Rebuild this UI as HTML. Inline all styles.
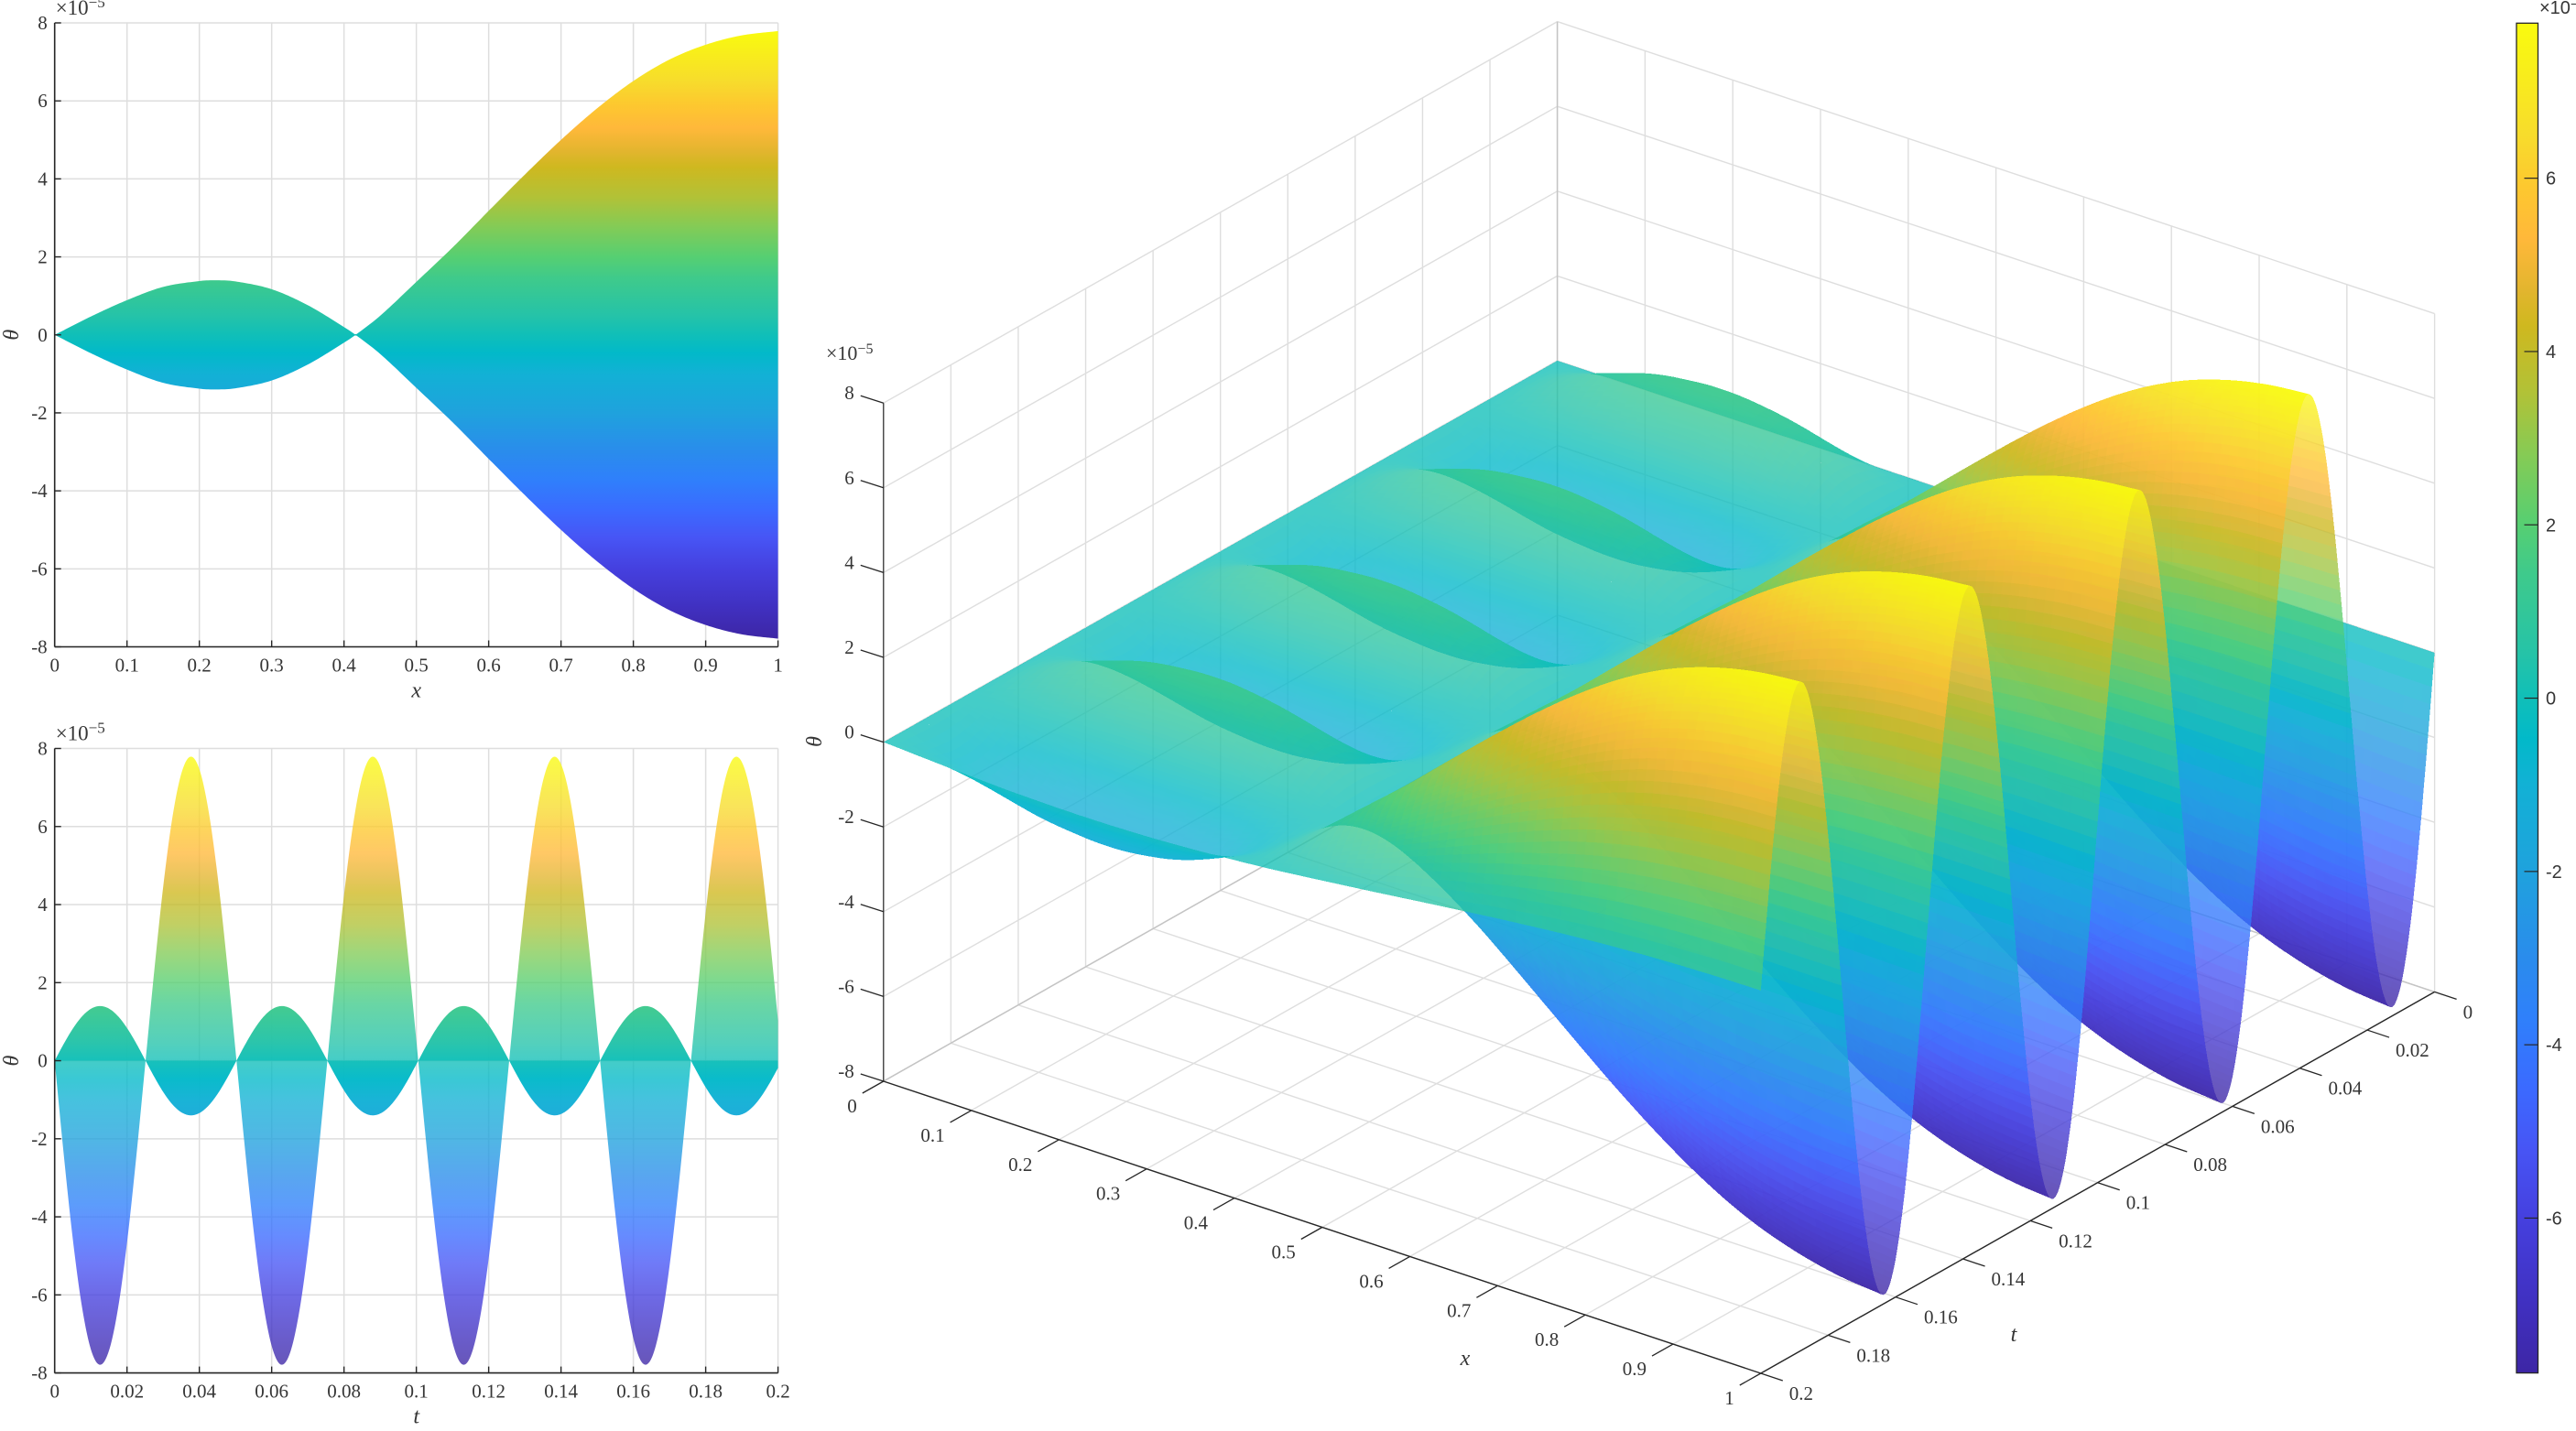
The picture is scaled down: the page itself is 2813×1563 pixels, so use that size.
<!DOCTYPE html>
<html lang="en">
<head>
<meta charset="utf-8">
<title>Angular displacement surface</title>
<style>
html,body{margin:0;padding:0;background:#fff;width:2813px;height:1563px;overflow:hidden}
svg{display:block;position:absolute;left:0;top:0}
text{font-family:"Liberation Serif",serif;fill:#363636;font-size:21px}
.sans{font-family:"Liberation Sans",sans-serif;font-size:20px}
.lab{font-style:italic;font-size:24px}
</style>
</head>
<body>
<svg id="figure" xmlns="http://www.w3.org/2000/svg" width="2813" height="1563" viewBox="0 0 2813 1563">
  <defs id="defs"></defs>
  <g id="layer-2d"></g>
  <g id="layer-grid3d"></g>
  <g id="layer-surface" shape-rendering="crispEdges"></g>
  <g id="layer-axes3d"></g>
  <g id="layer-colorbar"></g>
</svg>
<script>
// ---- chart data (theta values in units of 1e-5) ----
const modeX = [0,0.05,0.1,0.15,0.2,0.222,0.25,0.3,0.35,0.4,0.416,0.45,0.5,0.55,0.6,0.65,0.7,0.75,0.8,0.85,0.9,0.95,1];
const modeTheta = [0,0.47,0.89,1.23,1.38,1.4,1.37,1.17,0.76,0.2,0,-0.49,-1.36,-2.24,-3.18,-4.11,-5,-5.81,-6.51,-7.06,-7.44,-7.68,-7.79];
const timeStep = 0.0025;
const timeFactor = [0,.3074,.5851,.8061,.949,1,.9541,.8157,.5985,.3233,.0166,-.2915,-.5716,-.7962,-.9437,-.9998,-.9589,-.825,-.6119,-.3392,-.0332,.2757,.5578,.7861,.938,.9992,.9634,.8342,.6247,.3544,.0498,-.2598,-.544,-.7757,-.9321,-.9983,-.9678,-.8434,-.638,-.3703,-.0663,.2436,.53,.765,.926,.9972,.972,.8525,.6503,.3857,.0829,-.2273,-.5155,-.754,-.9196,-.9958,-.9756,-.8611,-.663,-.4009,-.0994,.2113,.5016,.7433,.9129,.9942,.9793,.8692,.6755,.4156,.116,-.1951,-.4872,-.732,-.9063,-.9923,-.9823,-.8773,-.6879,-.4308,-.1324];
const xTicks = [0,0.1,0.2,0.3,0.4,0.5,0.6,0.7,0.8,0.9,1];
const xTickLabels = ['0','0.1','0.2','0.3','0.4','0.5','0.6','0.7','0.8','0.9','1'];
const tTicks = [0,0.02,0.04,0.06,0.08,0.1,0.12,0.14,0.16,0.18,0.2];
const tTickLabels = ['0','0.02','0.04','0.06','0.08','0.1','0.12','0.14','0.16','0.18','0.2'];
const thetaTicks = [-8,-6,-4,-2,0,2,4,6,8];
const thetaTickLabels = ['-8','-6','-4','-2','0','2','4','6','8'];
const colorbarTicks = [-6,-4,-2,0,2,4,6];
const colorbarTickLabels = ['-6','-4','-2','0','2','4','6'];
const colorLevels = [-7.79,-7,-6,-5.2,-4.5,-3.7,-3,-2,-1,-0.47,0,0.5,1.45,2,2.8,3.5,4.3,4.7,5.3,5.9,6.5,7.79];
const colorValues = ['#3d26a5','#4030c0','#4540df','#4755f5','#3b6aff','#2f80fb','#2a8cec','#1fa2dd','#12b1d5','#02b9c9','#10bfb8','#25c3a8','#3fca8b','#56cf72','#85cb55','#b0c238','#cfb81f','#e2b52e','#ffb83a','#fdc82f','#f7dc2c','#f9fb0e'];

const NS = 'http://www.w3.org/2000/svg';
const thetaMax = 7.79, TMAX = 0.2;
const SURFACE_ALPHA = 0.78;
const GRID = '#dedede', AXIS = '#262626';

function make(parent, tag, attrs, txt){
  const n = document.createElementNS(NS, tag);
  for (const k in attrs) n.setAttribute(k, attrs[k]);
  if (txt !== undefined) n.textContent = txt;
  parent.appendChild(n);
  return n;
}
function hex2rgb(h){return [parseInt(h.slice(1,3),16),parseInt(h.slice(3,5),16),parseInt(h.slice(5,7),16)];}
const colorRGB = colorValues.map(hex2rgb);
function colorAt(v){
  if (v <= colorLevels[0]) return colorRGB[0];
  const last = colorLevels.length-1;
  if (v >= colorLevels[last]) return colorRGB[last];
  let i = 0;
  while (colorLevels[i+1] < v) i++;
  const f = (v-colorLevels[i])/(colorLevels[i+1]-colorLevels[i]);
  const a = colorRGB[i], b = colorRGB[i+1];
  return [a[0]+(b[0]-a[0])*f, a[1]+(b[1]-a[1])*f, a[2]+(b[2]-a[2])*f];
}
function rgbStr(c){return 'rgb('+Math.round(c[0])+','+Math.round(c[1])+','+Math.round(c[2])+')';}

// Cubic Hermite drawing curve through the read points
function slopes(xs, ys){
  const m = [];
  for (let i=0;i<xs.length;i++){
    if (i===0) m.push((ys[1]-ys[0])/(xs[1]-xs[0]));
    else if (i===xs.length-1) m.push((ys[i]-ys[i-1])/(xs[i]-xs[i-1]));
    else m.push((ys[i+1]-ys[i-1])/(xs[i+1]-xs[i-1]));
  }
  return m;
}
function curveAt(xs, ys, m, q){
  let i = 0;
  while (i < xs.length-2 && xs[i+1] < q) i++;
  const h = xs[i+1]-xs[i], s = (q-xs[i])/h;
  const s2=s*s, s3=s2*s;
  return (2*s3-3*s2+1)*ys[i]+(s3-2*s2+s)*h*m[i]+(-2*s3+3*s2)*ys[i+1]+(s3-s2)*h*m[i+1];
}
const timeValues = timeFactor.map((_,i)=>i*timeStep);
const modeSlopes = slopes(modeX, modeTheta);
const timeSlopes = slopes(timeValues, timeFactor);
const modeAt = x => curveAt(modeX, modeTheta, modeSlopes, x);
const factorAt = t => curveAt(timeValues, timeFactor, timeSlopes, t);
const peakSmall = Math.max.apply(null, modeTheta);
const tipValue = modeTheta[modeTheta.length-1];

// Shared vertical gradient builder
const defs = document.getElementById('defs');
function addGradient(id, yTop, yBottom){
  const g = make(defs,'linearGradient',{id:id,gradientUnits:'userSpaceOnUse',x1:0,x2:0,y1:yTop,y2:yBottom});
  for (let i=colorLevels.length-1;i>=0;i--){
    const off = (colorLevels[colorLevels.length-1]-colorLevels[i])/(colorLevels[colorLevels.length-1]-colorLevels[0]);
    make(g,'stop',{offset:off.toFixed(4),'stop-color':colorValues[i]});
  }
}

// ---- 2D panels ----
const layer2d = document.getElementById('layer-2d');
function panel(name, box, domainMax, ticks, labels, xLabel){
  const sx = v => box.l + (box.r-box.l)*v/domainMax;
  const sy = v => (box.t+box.b)/2 - (box.b-box.t)/16*v;
  const g = make(layer2d,'g',{});
  
  
  ticks.forEach(v=>{
    const gl = make(g,'line',{x1:sx(v),x2:sx(v),y1:box.t,y2:box.b,stroke:GRID,'stroke-width':1.5});
    
    
  });
  thetaTicks.forEach(v=>{
    const gl = make(g,'line',{x1:box.l,x2:box.r,y1:sy(v),y2:sy(v),stroke:GRID,'stroke-width':1.5});
    
    
  });
  const marks = make(g,'g',{});
  
  
  const front = make(g,'g',{});
  
  
  const yAxis = make(front,'line',{x1:box.l,x2:box.l,y1:box.t,y2:box.b,stroke:AXIS,'stroke-width':1.6});
  
  
  const xAxis = make(front,'line',{x1:box.l,x2:box.r,y1:box.b,y2:box.b,stroke:AXIS,'stroke-width':1.6});
  
  
  ticks.forEach((v,i)=>{
    const tk = make(front,'line',{x1:sx(v),x2:sx(v),y1:box.b,y2:box.b-7,stroke:AXIS,'stroke-width':1.4});
    
    
    const lb = make(front,'text',{x:sx(v),y:box.b+27,'text-anchor':'middle'},labels[i]);
    
    
  });
  thetaTicks.forEach((v,i)=>{
    const tk = make(front,'line',{x1:box.l,x2:box.l+7,y1:sy(v),y2:sy(v),stroke:AXIS,'stroke-width':1.4});
    
    
    const lb = make(front,'text',{x:box.l-8,y:sy(v)+7,'text-anchor':'end'},thetaTickLabels[i]);
    
    
  });
  const mult = make(front,'text',{x:box.l+1,y:box.t-9,style:'font-size:23px'});
  
  
  mult.textContent = '\u00d710';
  make(mult,'tspan',{dy:-8,style:'font-size:17px'},'\u22125');
  const xl = make(front,'text',{x:(box.l+box.r)/2,y:box.b+55,'text-anchor':'middle','class':'lab'},xLabel);
  
  
  const yl = make(front,'text',{x:0,y:0,'text-anchor':'middle','class':'lab',transform:'translate(20,'+sy(0)+') rotate(-90)'},'\u03b8');
  
  
  return {sx,sy,marks};
}

const boxX = {l:59.7,r:849.6,t:25,b:706.5};
const boxT = {l:59.7,r:849.6,t:817.5,b:1499.6};
const panelX = panel('theta-vs-x-plot', boxX, 1, xTicks, xTickLabels, 'x');
const panelT = panel('theta-vs-t-plot', boxT, TMAX, tTicks, tTickLabels, 't');
addGradient('gradX', panelX.sy(thetaMax), panelX.sy(-thetaMax));
addGradient('gradT', panelT.sy(thetaMax), panelT.sy(-thetaMax));

// Envelope in the x-view
(function(){
  const up = [], lo = [];
  const n = 400;
  for (let i=0;i<=n;i++){
    const x = i/n, a = Math.abs(modeAt(x));
    up.push(panelX.sx(x).toFixed(2)+','+panelX.sy(a).toFixed(2));
    lo.unshift(panelX.sx(x).toFixed(2)+','+panelX.sy(-a).toFixed(2));
  }
  const p = make(panelX.marks,'polygon',{points:up.concat(lo).join(' '),fill:'url(#gradX)'});
  
  
})();

// Lobes in the t-view
(function(){
  const big = [], small = [];
  const n = 1000;
  for (let i=0;i<=n;i++){
    const t = TMAX*i/n, g = factorAt(t);
    big.push(panelT.sx(t).toFixed(2)+','+panelT.sy(tipValue*g).toFixed(2));
    small.push(panelT.sx(t).toFixed(2)+','+panelT.sy(peakSmall*g).toFixed(2));
  }
  const base = panelT.sx(TMAX).toFixed(2)+','+panelT.sy(0).toFixed(2)+' '+panelT.sx(0).toFixed(2)+','+panelT.sy(0).toFixed(2);
  const b = make(panelT.marks,'polygon',{points:big.join(' ')+' '+base,fill:'url(#gradT)','fill-opacity':SURFACE_ALPHA});
  
  
  const s = make(panelT.marks,'polygon',{points:small.join(' ')+' '+base,fill:'url(#gradT)','fill-opacity':0.97});
  
  
})();

// ---- 3D projection ----
const ORIGIN = [1700.6,394];
const AX_X = [958,319];
const AX_T = [-735.8,416.6];
const AX_Z = -46.3;
function project(x,t,z){
  const T = t/TMAX;
  return [ORIGIN[0]+x*AX_X[0]+T*AX_T[0], ORIGIN[1]+x*AX_X[1]+T*AX_T[1]+z*AX_Z];
}
function line3(parent,a,b,stroke,w,name){
  const l = make(parent,'line',{x1:a[0].toFixed(2),y1:a[1].toFixed(2),x2:b[0].toFixed(2),y2:b[1].toFixed(2),stroke:stroke,'stroke-width':w});
  
  
  return l;
}

// Grid walls and floor
const grid3 = document.getElementById('layer-grid3d');
xTicks.forEach(v=>{
  line3(grid3,project(v,0,-8),project(v,0,8),GRID,1.4,'back-wall-vertical-grid-line');
  line3(grid3,project(v,0,-8),project(v,TMAX,-8),GRID,1.4,'floor-grid-line-x');
});
tTicks.forEach(v=>{
  line3(grid3,project(0,v,-8),project(0,v,8),GRID,1.4,'side-wall-vertical-grid-line');
  line3(grid3,project(0,v,-8),project(1,v,-8),GRID,1.4,'floor-grid-line-t');
});
thetaTicks.forEach(v=>{
  line3(grid3,project(0,0,v),project(1,0,v),GRID,1.4,'back-wall-horizontal-grid-line');
  line3(grid3,project(0,0,v),project(0,TMAX,v),GRID,1.4,'side-wall-horizontal-grid-line');
});
line3(grid3,project(0,0,-8),project(0,0,8),'#c4c4c4',1.4,'box-back-edge');
line3(grid3,project(0,0,-8),project(1,0,-8),'#c4c4c4',1.4,'box-floor-edge-t0');
line3(grid3,project(0,0,-8),project(0,TMAX,-8),'#c4c4c4',1.4,'box-floor-edge-x0');

// Surface facets
(function(){
  const Nx = 100, Nt = 500;
  const F = [], G = [];
  for (let i=0;i<=Nx;i++) F.push(modeAt(i/Nx));
  for (let j=0;j<=Nt;j++) G.push(factorAt(TMAX*j/Nt));
  const P = [];
  for (let j=0;j<=Nt;j++){
    const row = [];
    for (let i=0;i<=Nx;i++){
      const q = project(i/Nx, TMAX*j/Nt, F[i]*G[j]);
      row.push(q[0].toFixed(1)+','+q[1].toFixed(1));
    }
    P.push(row);
  }
  const quads = [];
  for (let j=0;j<Nt;j++){
    for (let i=0;i<Nx;i++){
      const z = (F[i]*G[j]+F[i+1]*G[j]+F[i]*G[j+1]+F[i+1]*G[j+1])/4;
      const depth = (i+.5)/Nx + 1.3*(j+.5)/Nt + 1.16*(z+8)/16;
      quads.push([depth,i,j,z]);
    }
  }
  quads.sort((a,b)=>a[0]-b[0]);
  const frag = document.createDocumentFragment();
  for (const q of quads){
    const i=q[1], j=q[2];
    const poly = document.createElementNS(NS,'polygon');
    poly.setAttribute('points',P[j][i]+' '+P[j][i+1]+' '+P[j+1][i+1]+' '+P[j+1][i]);
    poly.setAttribute('fill',rgbStr(colorAt(q[3])));
    poly.setAttribute('fill-opacity',SURFACE_ALPHA);
    
    
    frag.appendChild(poly);
  }
  document.getElementById('layer-surface').appendChild(frag);
})();

// 3D axes
const ax3 = document.getElementById('layer-axes3d');
line3(ax3,project(0,TMAX,-8),project(0,TMAX,8),AXIS,1.2,'theta-axis-line');
line3(ax3,project(0,TMAX,-8),project(1,TMAX,-8),AXIS,1.4,'x-axis-line');
line3(ax3,project(1,0,-8),project(1,TMAX,-8),AXIS,1.4,'t-axis-line');
xTicks.forEach((v,i)=>{
  const b = project(v,TMAX,-8);
  line3(ax3,b,[b[0]-23,b[1]+13],AXIS,1.3,'x-tick');
  const lb = make(ax3,'text',{x:b[0]-29,y:b[1]+34,'text-anchor':'end'},xTickLabels[i]);
  
  
});
tTicks.forEach((v,i)=>{
  const b = project(1,v,-8);
  line3(ax3,b,[b[0]+24,b[1]+8],AXIS,1.3,'t-tick');
  const lb = make(ax3,'text',{x:b[0]+31,y:b[1]+29,'text-anchor':'start'},tTickLabels[i]);
  
  
});
thetaTicks.forEach((v,i)=>{
  const b = project(0,TMAX,v);
  line3(ax3,b,[b[0]-25,b[1]-8],AXIS,1.3,'theta-tick');
  const lb = make(ax3,'text',{x:b[0]-32,y:b[1]-4,'text-anchor':'end'},thetaTickLabels[i]);
  
  
});
const mult3 = make(ax3,'text',{x:902,y:393,style:'font-size:22px'},'\u00d710');


make(mult3,'tspan',{dy:-7,style:'font-size:16px'},'\u22125');
const xTitle3 = make(ax3,'text',{x:1600,y:1491,'text-anchor':'middle','class':'lab'},'x');


const tTitle3 = make(ax3,'text',{x:2199,y:1465,'text-anchor':'middle','class':'lab'},'t');


const zTitle3 = make(ax3,'text',{x:0,y:0,'text-anchor':'middle','class':'lab',transform:'translate(897,810) rotate(-90)'},'\u03b8');



// Colorbar
(function(){
  const cb = document.getElementById('layer-colorbar');
  const box = {l:2748,r:2771.5,t:25.3,b:1499.6};
  const sy = v => 762.55 - 94.65*v;
  addGradient('gradCB', box.t, box.b);
  const rect = make(cb,'rect',{x:box.l,y:box.t,width:box.r-box.l,height:box.b-box.t,fill:'url(#gradCB)',stroke:'#262626','stroke-width':1.3});
  
  
  colorbarTicks.forEach((v,i)=>{
    const tk = make(cb,'line',{x1:box.r-15,x2:box.r,y1:sy(v),y2:sy(v),stroke:'#262626','stroke-width':1.2});
    
    
    const lb = make(cb,'text',{x:2780,y:sy(v)+7,'class':'sans'},colorbarTickLabels[i]);
    
    
  });
  const m = make(cb,'text',{x:2773,y:15,'class':'sans'},'\u00d710');
  
  
  make(m,'tspan',{dy:-6,style:'font-size:14px'},'\u22125');
})();
</script>
</body>
</html>
